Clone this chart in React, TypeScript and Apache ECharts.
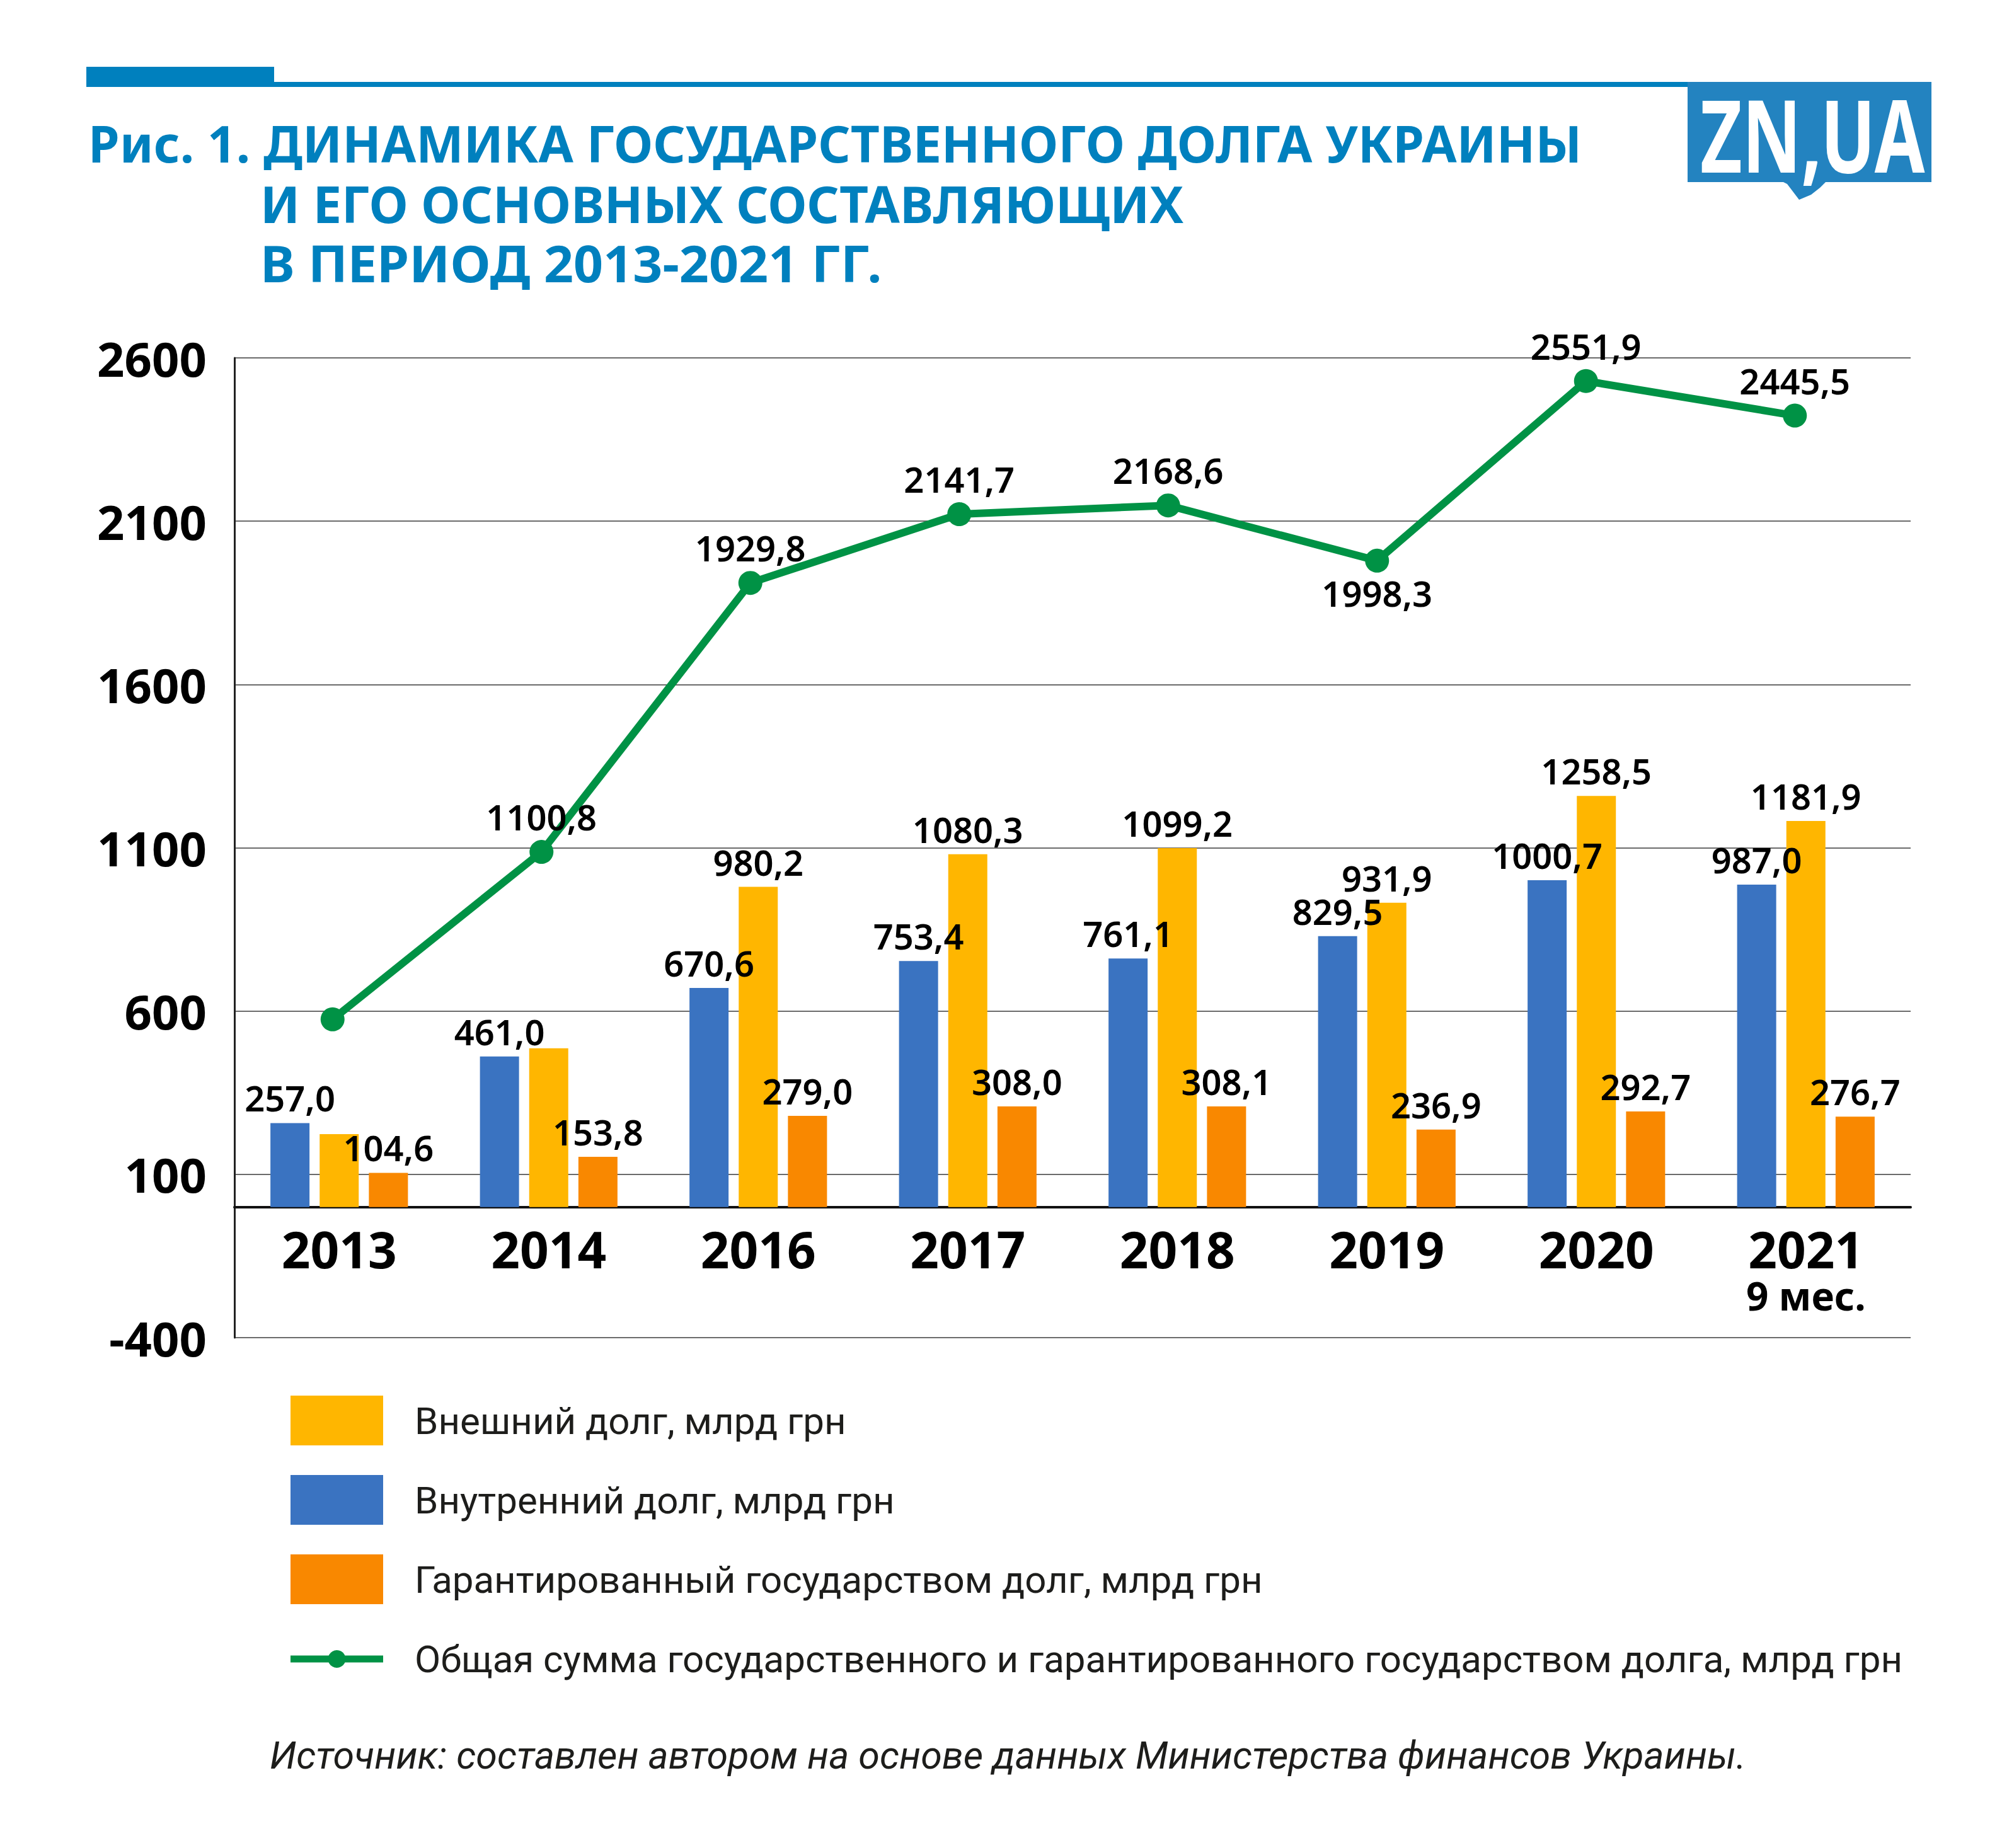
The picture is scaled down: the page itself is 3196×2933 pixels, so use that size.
import React, { useEffect, useRef } from 'react';
import * as echarts from 'echarts';

const categories = ['2013', '2014', '2016', '2017', '2018', '2019', '2020', '2021'];
const internalDebt = [257.0, 461.0, 670.6, 753.4, 761.1, 829.5, 1000.7, 987.0];
const externalDebt = [223.2, 486.0, 980.2, 1080.3, 1099.2, 931.9, 1258.5, 1181.9];
const guaranteedDebt = [104.6, 153.8, 279.0, 308.0, 308.1, 236.9, 292.7, 276.7];
const totalDebt = [584.8, 1100.8, 1929.8, 2141.7, 2168.6, 1998.3, 2551.9, 2445.5];
const hiddenExternalLabels = ['2013', '2014'];
const hiddenTotalLabels = ['2013'];
const totalLabelsBelow = ['2019'];
const lastCategoryNote = '9 мес.';
const yMin = -400;
const yMax = 2600;
const yStep = 500;

const nameExternal = 'Внешний долг, млрд грн';
const nameInternal = 'Внутренний долг, млрд грн';
const nameGuaranteed = 'Гарантированный государством долг, млрд грн';
const nameTotal = 'Общая сумма государственного и гарантированного государством долга, млрд грн';
const titleLines = [
  'Рис. 1. ДИНАМИКА ГОСУДАРСТВЕННОГО ДОЛГА УКРАИНЫ',
  'И ЕГО ОСНОВНЫХ СОСТАВЛЯЮЩИХ',
  'В ПЕРИОД 2013-2021 ГГ.',
];
const sourceText = 'Источник: составлен автором на основе данных Министерства финансов Украины.';

const C_BLUE = '#3A73C1';
const C_YELLOW = '#FFB600';
const C_ORANGE = '#F98800';
const C_GREEN = '#009245';
const C_TITLE = '#0080BE';
const C_LOGO = '#2383C0';
const NUM_FONT = '"Noto Sans", sans-serif';

const fmt = (v: number) => Number(v).toFixed(1).replace('.', ',');

const barLabel = {
  show: true,
  position: 'top',
  distance: 12,
  color: '#000',
  fontFamily: NUM_FONT,
  fontWeight: 600,
  fontSize: 56,
  formatter: (p: any) => fmt(p.value),
};

export default function App() {
  const ref = useRef<HTMLDivElement>(null);
  useEffect(() => {
    if (!ref.current) return;
    const chart = echarts.init(ref.current, undefined, { renderer: 'svg' });

    const legendItems = [
      { name: nameExternal, color: C_YELLOW },
      { name: nameInternal, color: C_BLUE },
      { name: nameGuaranteed, color: C_ORANGE },
    ];
    const legendTop = 2215;
    const legendStep = 126;
    const titleFont = 'bold 80px "Noto Sans"';
    const graphic: any[] = [
      { type: 'rect', shape: { x: 137, y: 106, width: 298, height: 24 }, style: { fill: C_TITLE } },
      { type: 'rect', shape: { x: 137, y: 130, width: 2545, height: 8 }, style: { fill: C_TITLE } },
      { type: 'rect', shape: { x: 2678, y: 130, width: 387, height: 159 }, style: { fill: C_LOGO } },
      {
        type: 'polygon',
        shape: { points: [[2828, 288], [2836, 292], [2855, 317], [2874, 309], [2888, 298], [2898, 288]] },
        style: { fill: C_LOGO },
      },
      {
        type: 'text', x: 2698, y: 212, scaleX: 0.72,
        style: { text: 'ZN,UA', fill: '#fff', font: 'bold 160px "Noto Sans"', textAlign: 'left', textVerticalAlign: 'middle' },
      },
      {
        type: 'text', x: 140, y: 226,
        style: { text: titleLines[0], fill: C_TITLE, font: titleFont, lineHeight: 84, textAlign: 'left', textVerticalAlign: 'middle' },
      },
      {
        type: 'text', x: 413, y: 322,
        style: { text: titleLines[1], fill: C_TITLE, font: titleFont, lineHeight: 84, textAlign: 'left', textVerticalAlign: 'middle' },
      },
      {
        type: 'text', x: 413, y: 417, scaleX: 1.03,
        style: { text: titleLines[2], fill: C_TITLE, font: titleFont, lineHeight: 84, textAlign: 'left', textVerticalAlign: 'middle' },
      },
      {
        type: 'text', x: 428, y: 2786,
        style: { text: sourceText, fill: '#1d1d1b', font: 'italic 61px Roboto', textAlign: 'left', textVerticalAlign: 'middle' },
      },
    ];
    legendItems.forEach((it, i) => {
      const y = legendTop + i * legendStep;
      graphic.push({ type: 'rect', shape: { x: 461, y, width: 147, height: 79 }, style: { fill: it.color } });
      graphic.push({
        type: 'text', x: 658, y: y + 40,
        style: { text: it.name, fill: '#1d1d1b', font: '60px Roboto', textAlign: 'left', textVerticalAlign: 'middle' },
      });
    });
    const ly = legendTop + 3 * legendStep + 40;
    graphic.push({ type: 'line', shape: { x1: 461, y1: ly, x2: 608, y2: ly }, style: { stroke: C_GREEN, lineWidth: 11 } });
    graphic.push({ type: 'circle', shape: { cx: 534.5, cy: ly, r: 14 }, style: { fill: C_GREEN } });
    graphic.push({
      type: 'text', x: 658, y: ly,
      style: { text: nameTotal, fill: '#1d1d1b', font: '60px Roboto', textAlign: 'left', textVerticalAlign: 'middle' },
    });

    const option: any = {
      animation: false,
      backgroundColor: '#ffffff',
      textStyle: { fontFamily: NUM_FONT },
      graphic,
      grid: [
        { left: 372, top: 568, width: 2660, height: 1555, containLabel: false },
        { left: 362, top: 580, width: 2652, height: 1545, containLabel: false },
      ],
      xAxis: [
        {
          type: 'category',
          gridIndex: 0,
          data: categories,
          axisTick: { show: false },
          axisLine: { onZero: true, lineStyle: { color: '#111', width: 4 } },
          axisLabel: {
            margin: -182,
            formatter: (v: string) =>
              v === categories[categories.length - 1] ? `{y|${v}}\n{m|${lastCategoryNote}}` : `{y|${v}}`,
            rich: {
              y: { fontFamily: NUM_FONT, fontWeight: 700, fontSize: 80, color: '#000', lineHeight: 80 },
              m: { fontFamily: NUM_FONT, fontWeight: 700, fontSize: 62, color: '#000', lineHeight: 70 },
            },
          },
        },
        { type: 'category', gridIndex: 1, data: categories, show: false },
      ],
      yAxis: [
        {
          type: 'value',
          gridIndex: 0,
          min: yMin,
          max: yMax,
          interval: yStep,
          axisLine: { show: true, lineStyle: { color: '#222', width: 3 } },
          axisTick: { show: false },
          splitLine: { lineStyle: { color: '#6b6b6b', width: 2 } },
          axisLabel: {
            margin: 44,
            color: '#000',
            fontFamily: NUM_FONT,
            fontWeight: 700,
            fontSize: 76,
            padding: [40, 0, 0, 0],
            formatter: (v: number) => String(v),
          },
        },
        { type: 'value', gridIndex: 1, min: yMin, max: yMax, interval: yStep, show: false, splitLine: { show: false } },
      ],
      series: [
        {
          name: nameInternal,
          type: 'bar',
          xAxisIndex: 0,
          yAxisIndex: 0,
          data: internalDebt,
          barWidth: 62,
          barGap: '26%',
          itemStyle: { color: C_BLUE },
          label: barLabel,
        },
        {
          name: nameExternal,
          type: 'bar',
          xAxisIndex: 0,
          yAxisIndex: 0,
          data: externalDebt.map((v, i) =>
            hiddenExternalLabels.includes(categories[i]) ? { value: v, label: { show: false } } : v
          ),
          barWidth: 62,
          barGap: '26%',
          itemStyle: { color: C_YELLOW },
          label: barLabel,
        },
        {
          name: nameGuaranteed,
          type: 'bar',
          xAxisIndex: 0,
          yAxisIndex: 0,
          data: guaranteedDebt,
          barWidth: 62,
          barGap: '26%',
          itemStyle: { color: C_ORANGE },
          label: barLabel,
        },
        {
          name: nameTotal,
          type: 'line',
          xAxisIndex: 1,
          yAxisIndex: 1,
          z: 5,
          data: totalDebt.map((v, i) => {
            if (hiddenTotalLabels.includes(categories[i])) return { value: v, label: { show: false } };
            if (totalLabelsBelow.includes(categories[i])) return { value: v, label: { position: 'bottom', distance: 4 } };
            return v;
          }),
          symbol: 'circle',
          symbolSize: 38,
          lineStyle: { color: C_GREEN, width: 12 },
          itemStyle: { color: C_GREEN },
          label: { ...barLabel, distance: 9 },
        },
      ],
    };
    chart.setOption(option);
    return () => chart.dispose();
  }, []);
  return (
    <div
      ref={ref}
      style={{ position: 'absolute', left: 0, top: 0, width: 3196, height: 2933, background: '#fff' }}
    />
  );
}
